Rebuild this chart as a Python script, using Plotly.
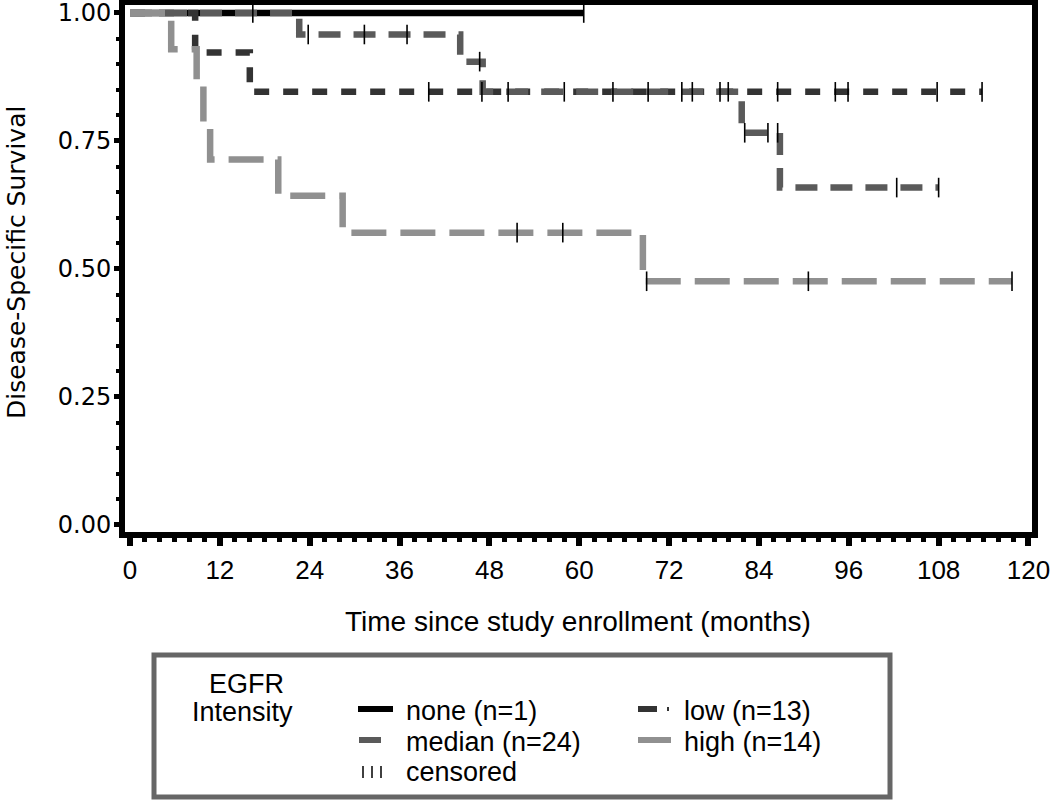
import plotly.graph_objects as go

# ---------------- data ----------------
x_ticks = [0, 12, 24, 36, 48, 60, 72, 84, 96, 108, 120]
y_ticks = [0.0, 0.25, 0.5, 0.75, 1.0]

none_events = []
none_surv = []
none_end = 60.6
none_censor = [60.6]

low_events = [8.7, 16.0]
low_surv = [0.923, 0.846]
low_end = 113.8
low_censor = [39.9, 47.0, 58.0, 64.5, 73.7, 75.1, 86.5, 94.2, 95.9, 107.8, 113.8]

median_events = [22.6, 44.1, 47.1, 81.7, 86.8]
median_surv = [0.958, 0.905, 0.846, 0.766, 0.659]
median_end = 108.0
median_censor = [16.4, 23.8, 31.3, 37.0, 46.7, 50.5, 69.2, 78.8, 79.9, 82.1, 85.2, 86.5, 102.4, 108.0]

high_events = [5.5, 8.9, 9.8, 10.7, 19.8, 28.4, 68.5]
high_surv = [0.929, 0.857, 0.786, 0.714, 0.643, 0.571, 0.476]
high_end = 117.8
high_censor = [51.7, 57.8, 69.0, 90.6, 117.8]

groups = [
    ("none (n=1)", none_events, none_surv, none_end, none_censor, "#000000", "solid"),
    ("low (n=13)", low_events, low_surv, low_end, low_censor, "#333333", "15px,14px"),
    ("median (n=24)", median_events, median_surv, median_end, median_censor, "#5a5a5a", "22px,13px"),
    ("high (n=14)", high_events, high_surv, high_end, high_censor, "#909090", "35px,14px"),
]


def surv_at(t, events, surv):
    s = 1.0
    for e, v in zip(events, surv):
        if e <= t:
            s = v
    return s


fig = go.Figure()
for name, ev, sv, end, cen, col, dash in groups:
    xs = [0] + list(ev) + [end]
    ys = [1.0] + list(sv) + [sv[-1] if sv else 1.0]
    fig.add_trace(go.Scatter(x=xs, y=ys, mode="lines", line_shape="hv",
                             line=dict(color=col, width=6.5, dash=dash),
                             name=name, showlegend=False, hoverinfo="skip"))
for name, ev, sv, end, cen, col, dash in groups:
    fig.add_trace(go.Scatter(x=cen, y=[surv_at(t, ev, sv) for t in cen], mode="markers",
                             marker=dict(symbol="line-ns", size=14,
                                         line=dict(color="black", width=1.6)),
                             name=name + " censored", showlegend=False, hoverinfo="skip"))

# ---------------- layout ----------------
W, H = 1050, 802
L, R, T, B = 125, 1032, 5, 532


def px(x):
    return (x - L) / (R - L)


def py(y):
    return (B - y) / (B - T)


SANS = "Liberation Sans, Arial, sans-serif"
tick_font_x = dict(family=SANS, size=26, color="black")
tick_font_y = dict(family="DejaVu Sans", size=24, color="black")
legend_font = dict(family=SANS, size=27, color="black")

fig.update_layout(
    width=W, height=H,
    margin=dict(l=L, r=W - R, t=T, b=H - B, pad=0, autoexpand=False),
    paper_bgcolor="white", plot_bgcolor="white",
    showlegend=False,
)
fig.update_xaxes(range=[-0.67, 120.47], tickvals=x_ticks, ticktext=[str(v) for v in x_ticks],
                 automargin=False,
                 showgrid=False, zeroline=False, showline=True, linecolor="black", linewidth=6,
                 mirror=True, ticks="outside", ticklen=8, tickwidth=6, tickcolor="black",
                 tickfont=tick_font_x, ticklabelstandoff=2, ticklabeloverflow="allow",
                 minor=dict(dtick=2, tick0=0, ticks="outside", ticklen=4, tickwidth=5, tickcolor="black",
                            showgrid=False))
fig.update_yaxes(range=[-0.0137, 1.0156], tickvals=y_ticks, ticktext=["%.2f" % v for v in y_ticks],
                 automargin=False,
                 showgrid=False, zeroline=False, showline=True, linecolor="black", linewidth=6,
                 mirror=True, ticks="outside", ticklen=5, tickwidth=5, tickcolor="black",
                 tickfont=tick_font_y, ticklabelstandoff=-2, ticklabeloverflow="allow",
                 minor=dict(dtick=0.05, tick0=0, ticks="outside", ticklen=3, tickwidth=4, tickcolor="black",
                            showgrid=False))

annotations = [
    dict(text="Time since study enrollment (months)", x=px(578), y=py(621), xref="paper", yref="paper",
         showarrow=False, xanchor="center", yanchor="middle", font=dict(family=SANS, size=28, color="black")),
    dict(text="Disease-Specific Survival", x=px(16), y=py(263), xref="paper", yref="paper",
         showarrow=False, xanchor="center", yanchor="middle", textangle=-90,
         font=dict(family="DejaVu Sans", size=25, color="black")),
    dict(text="EGFR", x=px(246), y=py(684), xref="paper", yref="paper", showarrow=False,
         xanchor="center", yanchor="middle", font=legend_font),
    dict(text="Intensity", x=px(242), y=py(712), xref="paper", yref="paper", showarrow=False,
         xanchor="center", yanchor="middle", font=legend_font),
    dict(text="none (n=1)", x=px(404), y=py(711), xref="paper", yref="paper", showarrow=False,
         xanchor="left", yanchor="middle", font=legend_font),
    dict(text="low (n=13)", x=px(682), y=py(711), xref="paper", yref="paper", showarrow=False,
         xanchor="left", yanchor="middle", font=legend_font),
    dict(text="median (n=24)", x=px(404), y=py(742), xref="paper", yref="paper", showarrow=False,
         xanchor="left", yanchor="middle", font=legend_font),
    dict(text="high (n=14)", x=px(682), y=py(742), xref="paper", yref="paper", showarrow=False,
         xanchor="left", yanchor="middle", font=legend_font),
    dict(text="censored", x=px(404), y=py(772), xref="paper", yref="paper", showarrow=False,
         xanchor="left", yanchor="middle", font=legend_font),
]

shapes = [
    dict(type="rect", xref="paper", yref="paper", x0=px(154), x1=px(890), y0=py(797), y1=py(655),
         line=dict(color="#666666", width=5), fillcolor="rgba(0,0,0,0)", layer="above"),
    dict(type="line", xref="paper", yref="paper", x0=px(358), x1=px(393), y0=py(709), y1=py(709),
         line=dict(color="#000000", width=6)),
    dict(type="line", xref="paper", yref="paper", x0=px(638), x1=px(657), y0=py(709), y1=py(709),
         line=dict(color="#333333", width=6)),
    dict(type="line", xref="paper", yref="paper", x0=px(667), x1=px(669), y0=py(709), y1=py(709),
         line=dict(color="#333333", width=4)),
    dict(type="line", xref="paper", yref="paper", x0=px(359), x1=px(381), y0=py(740), y1=py(740),
         line=dict(color="#5a5a5a", width=6)),
    dict(type="line", xref="paper", yref="paper", x0=px(638), x1=px(671), y0=py(740), y1=py(740),
         line=dict(color="#909090", width=6)),
]
for cx in [363, 372, 381]:
    shapes.append(dict(type="line", xref="paper", yref="paper", x0=px(cx), x1=px(cx),
                       y0=py(778), y1=py(766), line=dict(color="black", width=1.5)))

fig.update_layout(annotations=annotations, shapes=shapes)
fig.write_html("out.html", config={"displayModeBar": False},
               post_script="document.body.style.margin='0px';")
